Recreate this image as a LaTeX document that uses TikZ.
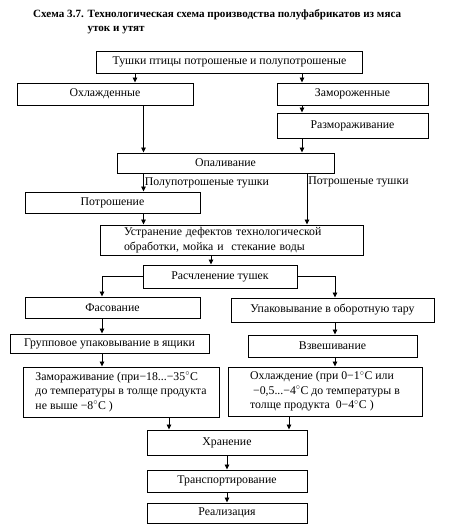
\documentclass[tikz,border=0pt]{standalone}
\usepackage{fontspec}
\setmainfont{Liberation Serif}
\usepackage{tikz}
\usetikzlibrary{arrows.meta,positioning}
\tikzset{block/.style={draw, line width=1pt, rectangle, inner sep=1pt,
		font=\fontsize{11.8}{14.5}\selectfont},
	arrow/.style={draw,line width=0.9pt,-{Triangle[length=5pt,width=4.5pt]}},
	lbl/.style={font=\fontsize{11.8}{14}\selectfont, inner sep=1pt}}

\begin{document}
\begin{tikzpicture}[x=1pt,y=-1pt]
		\useasboundingbox (0,0) rectangle (456,531);
		\node[anchor=north west, inner sep=0pt, font=\bfseries\fontsize{11.1}{13.5}\selectfont](title)at(33,8)
		{\begin{tabular}{@{}l@{ }l@{}}Схема 3.7. & Технологическая схема производства полуфабрикатов из мяса\\ & уток и утят\end{tabular}};
		
		\node[block, minimum width=266, minimum height=22](tushki)at(229.5,62){Тушки птицы потрошеные и полупотрошеные};
		\node[block, minimum width=176, minimum height=22](ohl)at(105,94){Охлажденные\hspace{34pt}};
		\node[block, minimum width=151, minimum height=22](zam)at(352.5,94){Замороженные\hspace{16pt}};
		\node[block, minimum width=151, minimum height=25](razm)at(352.5,125.5){Размораживание};
		\node[block, minimum width=217, minimum height=20](opal)at(225.5,163){Опаливание};
		\node[block, minimum width=175, minimum height=21](potr)at(112.5,202.5){Потрошение\hspace{10pt}};
		\node[block, minimum width=263, minimum height=30, text width=215, align=left](ustr)at(231.5,240)
		{Устранение дефектов технологической\\обработки, мойка и \ стекание воды};
		\node[block, minimum width=154, minimum height=23](rasch)at(220,276.5){Расчленение тушек};
		\node[block, minimum width=175, minimum height=21](fas)at(112.5,307.5){Фасование\hspace{18pt}};
		\node[block, minimum width=203, minimum height=24](upak)at(332.5,310){Упаковывание в оборотную тару};
		\node[block, minimum width=199, minimum height=19](grup)at(109.5,343.5){Групповое упаковывание в ящики};
		\node[block, minimum width=169, minimum height=22](vzv)at(332.5,346){Взвешивание};
		\node[block, minimum width=196, minimum height=50, align=left](zamor)at(121,392)
		{Замораживание (при−18...−35$^{\circ}$C\\до температуры в толще продукта\\не выше −8$^{\circ}$C )};
		\node[block, minimum width=194, minimum height=49, align=left](ohlazh)at(325,391.5)
		{Охлаждение (при 0−1$^{\circ}$C или\\\ −0,5...−4$^{\circ}$C до температуры в\\толще продукта \ 0−4$^{\circ}$C )};
		\node[block, minimum width=160, minimum height=25](hran)at(227,442.5){Хранение};
		\node[block, minimum width=160, minimum height=22](trans)at(227,481){Транспортирование};
		\node[block, minimum width=160, minimum height=20](real)at(227,513){Реализация};
		
		% x positions of the arrows
		\coordinate(xa)at(135,0);
		\coordinate(xb)at(302,0);
		\coordinate(xd)at(143.5,0);
		\coordinate(xe)at(307,0);
		\coordinate(xf)at(211,0);
		\coordinate(xg)at(102,0);
		\coordinate(xh)at(335,0);
		\coordinate(xi)at(169,0);
		\coordinate(xj)at(289,0);
		
		\draw[arrow](tushki.south -| xa)--(ohl.north -| xa);
		\draw[arrow](tushki.south -| xb)--(zam.north -| xb);
		\draw[arrow](zam.south -| xb)--(razm.north -| xb);
		\draw[arrow](razm.south -| xb)--(opal.north -| xb);
		\draw[arrow](ohl.south -| xd)--(opal.north -| xd);
		\draw[arrow](opal.south -| xd)--node[lbl,right]{Полупотрошеные тушки}(potr.north -| xd);
		\draw[arrow](opal.south -| xe)--node[lbl,right,pos=0.17]{Потрошеные тушки}(ustr.north -| xe);
		\draw[arrow](potr.south -| xd)--(ustr.north -| xd);
		\draw[arrow](ustr.south -| xf)--(rasch.north -| xf);
		\draw[arrow](rasch.west)-|(fas.north -| xg);
		\draw[arrow](rasch.east)-|(upak.north -| xh);
		\draw[arrow](fas.south -| xg)--(grup.north -| xg);
		\draw[arrow](grup.south -| xg)--(zamor.north -| xg);
		\draw[arrow](upak.south -| xh)--(vzv.north -| xh);
		\draw[arrow](vzv.south -| xh)--(ohlazh.north -| xh);
		\draw[arrow](zamor.south -| xi)--(hran.north -| xi);
		\draw[arrow](ohlazh.south -| xj)--(hran.north -| xj);
		\draw[arrow](hran)--(trans);
		\draw[arrow](trans)--(real);
	\end{tikzpicture}
\end{document}
